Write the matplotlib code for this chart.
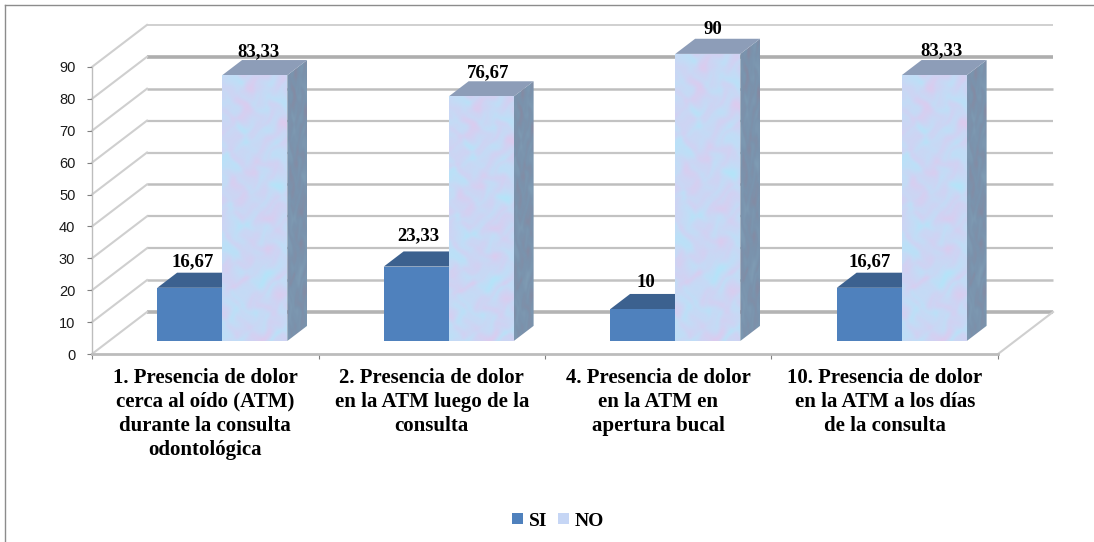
import numpy as np
import matplotlib
matplotlib.use('Agg')
import matplotlib.pyplot as plt
from matplotlib.colors import LinearSegmentedColormap
from matplotlib.patches import Patch, Polygon

categories = ['1. Presencia de dolor\ncerca al oído (ATM)\ndurante la consulta\nodontológica',
              '2. Presencia de dolor\nen la ATM luego de la\nconsulta',
              '4. Presencia de dolor\nen la ATM en\napertura bucal',
              '10. Presencia de dolor\nen la ATM a los días\nde la consulta']
si = [16.67, 23.33, 10, 16.67]
no = [83.33, 76.67, 90, 83.33]
si_labels = ['16,67', '23,33', '10', '16,67']
no_labels = ['83,33', '76,67', '90', '83,33']
yticks = list(range(0, 100, 10))

# label offsets from the top of each column, in points
si_off = [(2, 8), (1.5, 11.5), (2.5, 8), (0, 8)]
no_off = [(2.5, 6), (5, 6), (4, 7), (5, 6.5)]

# pixel scale of the front plane
px_x = 226.5
px_y = 3.19
# oblique depth of the box, in data units
depth_x = 55 / px_x
depth_y = 42 / px_y
bar_w = 0.287
bar_gap = 0.213
d0, d1 = 0.31, 0.67

plt.rcParams['font.family'] = 'Liberation Sans'
serif = {'family': 'Liberation Serif', 'weight': 'bold'}

fig = plt.figure(figsize=(10.94, 5.42), dpi=100)
ax = fig.add_axes([0, 0, 1, 1])
ax.set_xlim(-92 / px_x, (1094 - 92) / px_x)
ax.set_ylim((354 - 542) / px_y, 354 / px_y)
ax.patch.set_alpha(0)

front_cmap = LinearSegmentedColormap.from_list('no_front', ['#dccbee', '#cfd3f3', '#c3dcf6', '#b4e4f9'])
side_cmap = LinearSegmentedColormap.from_list('no_side', ['#868aa2', '#7a93ad', '#7f9cb4'])

# wave table for the paper-like mottling: x freq, y freq, phase, weight
mottle_waves = [(0.10, 0.07, 0.4, 1.0), (0.08, -0.13, 1.3, 1.0), (0.19, 0.16, 2.2, 0.8), (0.23, -0.11, 3.1, 0.8),
                (0.14, 0.27, 4.5, 0.7), (0.33, 0.19, 5.3, 0.5), (0.29, -0.31, 0.9, 0.5), (0.47, 0.41, 2.7, 0.3)]


def mottled(n=70, m=290):
    yy, xx = np.mgrid[0:m, 0:n]
    # warp the grid so the blotches do not line up in rows
    wx = xx + 7 * np.sin(yy * 0.083 + 0.7) + 3 * np.sin(yy * 0.21 + xx * 0.17)
    wy = yy + 7 * np.sin(xx * 0.097 + 1.9) + 3 * np.sin(xx * 0.23 - yy * 0.13)
    z = np.zeros(xx.shape)
    for fx, fy, ph, wt in mottle_waves:
        z += wt * np.sin(wx * fx + wy * fy + ph)
    return z


def face(pts, color=None, cmap=None, z=3):
    poly = Polygon(pts, closed=True, facecolor=color if color else 'none', edgecolor='none', zorder=z)
    ax.add_patch(poly)
    if cmap is not None:
        xs = [p[0] for p in pts]
        ys = [p[1] for p in pts]
        im = ax.imshow(mottled(), cmap=cmap, aspect='auto', zorder=z, interpolation='bilinear',
                       extent=(min(xs), max(xs), min(ys), max(ys)))
        im.set_clip_path(poly)


def bar3d(x, v, front, top, side, front_cmap=None, side_cmap=None, z=3):
    # x is the left edge on the floor, v the height of the column
    xa = x + d0 * depth_x
    xb = xa + bar_w
    ya = d0 * depth_y
    ddx = (d1 - d0) * depth_x
    ddy = (d1 - d0) * depth_y
    face([(xb, ya), (xb + ddx, ya + ddy), (xb + ddx, ya + ddy + v), (xb, ya + v)], side, side_cmap, z)
    face([(xa, ya + v), (xb, ya + v), (xb + ddx, ya + v + ddy), (xa + ddx, ya + v + ddy)], top, None, z)
    face([(xa, ya), (xb, ya), (xb, ya + v), (xa, ya + v)], front, front_cmap, z)
    return xa + bar_w / 2, ya + v + ddy


# back wall and side wall
grid_lw = [2.6, 1.8, 1.6, 1.6, 1.8, 1.6, 1.6, 1.8, 2.6, 1.4]
grid_col = ['#b4b4b4', '#c2c2c2', '#c2c2c2', '#c2c2c2', '#bebebe', '#c6c6c6', '#c2c2c2', '#bebebe', '#aeaeae', '#d0d0d0']
for t, lw, c in zip(yticks, grid_lw, grid_col):
    ax.plot([depth_x, 4 + depth_x], [t + depth_y, t + depth_y], color=c, lw=lw, zorder=1, solid_capstyle='butt')
    ax.plot([0, depth_x], [t, t + depth_y], color='#cfcfcf', lw=1.5, zorder=1)
ax.plot([4, 4 + depth_x], [0, depth_y], color='#cfcfcf', lw=1.5, zorder=1)

# columns
for i in range(4):
    left = i + bar_gap
    cx, cy = bar3d(left, si[i], '#4f81bd', '#3c618f', '#3a5f8c', z=3 + i * 0.1)
    ax.annotate(si_labels[i], (cx, cy), xytext=si_off[i], textcoords='offset points', ha='center', va='center',
                fontsize=13.5, color='black', zorder=9, **serif)
    cx, cy = bar3d(left + bar_w, no[i], None, '#8d9db8', None, front_cmap, side_cmap, z=3.05 + i * 0.1)
    ax.annotate(no_labels[i], (cx, cy), xytext=no_off[i], textcoords='offset points', ha='center', va='center',
                fontsize=13.5, color='black', zorder=9, **serif)

# axes
for s in ['top', 'right']:
    ax.spines[s].set_visible(False)
ax.spines['left'].set_position(('data', 0))
ax.spines['left'].set_bounds(0, 90)
ax.spines['left'].set_color('#bdbdbd')
ax.spines['left'].set_linewidth(1)
ax.spines['bottom'].set_position(('data', 0))
ax.spines['bottom'].set_bounds(0, 4)
ax.spines['bottom'].set_color('#bcbcbc')
ax.spines['bottom'].set_linewidth(2)
ax.set_yticks(yticks)
ax.tick_params(axis='y', length=3.5, width=0.8, color='#808080', labelsize=10.5, labelcolor='#1a1a1a', pad=8.5)
ax.set_xticks(range(5))
ax.set_xticklabels([])
ax.tick_params(axis='x', which='major', length=3.5, width=0.8, color='#808080')
ax.set_xticks(np.arange(4) + 0.5, minor=True)
ax.set_xticklabels(categories, minor=True, fontsize=15, linespacing=1.27, **serif)
ax.tick_params(axis='x', which='minor', length=0, pad=10)

# outer frame, only the top and left edges show
ax.plot([5 / 1094, 1], [1 - 5 / 542, 1 - 5 / 542], transform=ax.transAxes, color='#8c8c8c', lw=1, clip_on=False)
ax.plot([5 / 1094, 5 / 1094], [0, 1 - 5 / 542], transform=ax.transAxes, color='#8c8c8c', lw=1, clip_on=False)

handles = [Patch(facecolor='#4f81bd', label='SI'), Patch(facecolor='#c6d6f5', label='NO')]
fig.legend(handles=handles, loc='center', bbox_to_anchor=(558 / 1094, 1 - 521 / 542), ncol=2, frameon=False,
           prop={'family': 'Liberation Serif', 'weight': 'bold', 'size': 14}, handlelength=0.55, handleheight=0.55,
           handletextpad=0.3, columnspacing=0.55)

fig.savefig('out.png', dpi=100)
